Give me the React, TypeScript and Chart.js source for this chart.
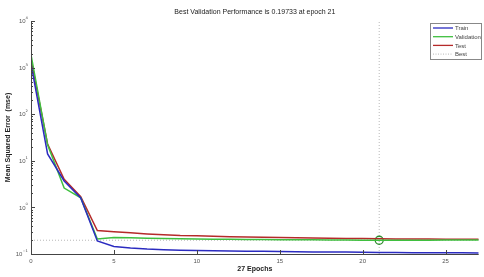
import React, { useEffect, useRef } from 'react';
import { Chart, registerables } from 'chart.js';
Chart.register(...registerables);

const epochs = [0, 1, 2, 3, 4, 5, 6, 7, 8, 9, 10, 11, 12, 13, 14, 15, 16, 17, 18, 19, 20, 21, 22, 23, 24, 25, 26, 27];
const trainMse = [1200, 14, 3.7, 1.6, 0.19, 0.145, 0.135, 0.128, 0.124, 0.121, 0.119, 0.117, 0.116, 0.115, 0.114, 0.113, 0.112, 0.111, 0.111, 0.110, 0.109, 0.108, 0.108, 0.107, 0.107, 0.106, 0.106, 0.105];
const validationMse = [1900, 22, 2.6, 1.6, 0.21, 0.225, 0.222, 0.219, 0.216, 0.213, 0.21, 0.208, 0.206, 0.205, 0.204, 0.203, 0.202, 0.201, 0.2, 0.199, 0.198, 0.19733, 0.198, 0.198, 0.198, 0.199, 0.199, 0.199];
const testMse = [1500, 23, 4.0, 1.7, 0.32, 0.3, 0.285, 0.27, 0.26, 0.25, 0.245, 0.24, 0.235, 0.232, 0.228, 0.225, 0.222, 0.22, 0.218, 0.216, 0.214, 0.212, 0.211, 0.21, 0.209, 0.208, 0.207, 0.207];
const bestEpoch = 21;
const bestValue = 0.19733;
const xTicks = [0, 5, 10, 15, 20, 25];
const yDecades = [-1, 0, 1, 2, 3, 4];
const legendLabels = ['Train', 'Validation', 'Test', 'Best'];
const titleText = 'Best Validation Performance is 0.19733 at epoch 21';
const xTitle = '27 Epochs';
const yTitle = 'Mean Squared Error  (mse)';

const BLUE = '#2b2bc0';
const GREEN = '#3fbf3f';
const RED = '#b52a2a';
const GREY = '#b8b8b8';

const supers: Record<string, string> = { '-': '\u207b', '0': '\u2070', '1': '\u00b9', '2': '\u00b2', '3': '\u00b3', '4': '\u2074' };

const decorPlugin = {
  id: 'decor',
  afterDraw(chart: any) {
    const { ctx, chartArea: a, scales } = chart;
    const x = scales.x;
    const y = scales.y;
    ctx.save();
    ctx.strokeStyle = '#444';
    ctx.lineWidth = 1;
    ctx.beginPath();
    ctx.moveTo(a.left + 0.5, a.top);
    ctx.lineTo(a.left + 0.5, a.bottom + 0.5);
    ctx.lineTo(a.right, a.bottom + 0.5);
    ctx.stroke();
    ctx.beginPath();
    xTicks.forEach((t) => {
      const px = Math.round(x.getPixelForValue(t)) + 0.5;
      ctx.moveTo(px, a.bottom);
      ctx.lineTo(px, a.bottom - 4);
    });
    yDecades.forEach((d) => {
      const base = Math.pow(10, d);
      const py = Math.round(y.getPixelForValue(base)) + 0.5;
      ctx.moveTo(a.left, py);
      ctx.lineTo(a.left + 4, py);
      if (d < 4) {
        for (let m = 2; m <= 9; m++) {
          const pm = Math.round(y.getPixelForValue(base * m)) + 0.5;
          ctx.moveTo(a.left, pm);
          ctx.lineTo(a.left + 2, pm);
        }
      }
    });
    ctx.stroke();
    ctx.fillStyle = '#555';
    ctx.textBaseline = 'middle';
    yDecades.forEach((d) => {
      const py = y.getPixelForValue(Math.pow(10, d));
      const exp = String(d).split('').map((c) => supers[c] || c).join('');
      ctx.font = '6px "DejaVu Sans", Arial, sans-serif';
      ctx.textAlign = 'left';
      const ew = ctx.measureText(exp).width;
      const right = a.left - 3;
      ctx.fillText(exp, right - ew, py - 1.5);
      ctx.font = '6px "Liberation Sans", Arial, sans-serif';
      ctx.textAlign = 'right';
      ctx.fillText('10', right - ew, py + 0.5);
    });
    ctx.fillStyle = '#222';
    ctx.font = '7px "Liberation Sans", Arial, sans-serif';
    ctx.textAlign = 'center';
    ctx.fillText(titleText, (a.left + a.right) / 2, 12);
    const lx = 430, ly = 23, lw = 51, lh = 36;
    ctx.fillStyle = '#fff';
    ctx.fillRect(lx, ly, lw, lh);
    ctx.strokeStyle = '#888';
    ctx.strokeRect(lx + 0.5, ly + 0.5, lw, lh);
    const colors = [BLUE, GREEN, RED, GREY];
    ctx.font = '6px "Liberation Sans", Arial, sans-serif';
    ctx.textAlign = 'left';
    legendLabels.forEach((lab, i) => {
      const yy = ly + 5 + i * 8.7;
      ctx.strokeStyle = colors[i];
      ctx.lineWidth = i === 3 ? 1 : 1.3;
      ctx.setLineDash(i === 3 ? [1, 1.5] : []);
      ctx.beginPath();
      ctx.moveTo(lx + 3, yy);
      ctx.lineTo(lx + 23, yy);
      ctx.stroke();
      ctx.setLineDash([]);
      ctx.fillStyle = '#444';
      ctx.fillText(lab, lx + 25, yy + 0.5);
    });
    ctx.restore();
  },
};

export default function App() {
  const ref = useRef<HTMLCanvasElement | null>(null);
  useEffect(() => {
    if (!ref.current) return;
    const mk = (arr: number[]) => epochs.map((e, i) => ({ x: e, y: arr[i] }));
    const chart = new Chart(ref.current, {
      type: 'line',
      data: {
        datasets: [
          { label: 'Train', data: mk(trainMse), borderColor: BLUE, borderWidth: 1.5, pointRadius: 0, tension: 0 },
          { label: 'Validation', data: mk(validationMse), borderColor: GREEN, borderWidth: 1.5, pointRadius: 0, tension: 0 },
          { label: 'Test', data: mk(testMse), borderColor: RED, borderWidth: 1.5, pointRadius: 0, tension: 0 },
          { label: 'BestMarker', data: [{ x: bestEpoch, y: bestValue }], showLine: false, pointRadius: 4, pointBorderWidth: 1.3, pointBorderColor: '#2e8b2e', pointBackgroundColor: 'rgba(0,0,0,0)', borderColor: '#2e8b2e' },
          { label: 'BestH', data: [{ x: 0, y: bestValue }, { x: 27, y: bestValue }], borderColor: GREY, borderWidth: 1, borderDash: [1, 2], pointRadius: 0 },
          { label: 'BestV', data: [{ x: bestEpoch, y: 0.1 }, { x: bestEpoch, y: 10000 }], borderColor: GREY, borderWidth: 1, borderDash: [1, 2], pointRadius: 0 },
        ],
      },
      options: {
        responsive: false,
        animation: false,
        layout: { padding: { top: 21, left: 0, right: 0, bottom: 0 } },
        plugins: { legend: { display: false }, tooltip: { enabled: false }, title: { display: false } },
        scales: {
          x: {
            type: 'linear',
            min: 0,
            max: 27,
            grid: { display: false, drawTicks: false },
            border: { display: false },
            ticks: { stepSize: 5, includeBounds: false, padding: 4, color: '#555', font: { size: 6, family: '"Liberation Sans", Arial, sans-serif' }, maxRotation: 0 },
            title: { display: true, text: xTitle, color: '#222', font: { size: 7, weight: 'bold', family: '"Liberation Sans", Arial, sans-serif' }, padding: { top: 2, bottom: 4 } },
            afterFit: (s: any) => { s.height = 23; },
          },
          y: {
            type: 'logarithmic',
            min: 0.1,
            max: 10000,
            grid: { display: false, drawTicks: false },
            border: { display: false },
            ticks: { display: false },
            title: { display: true, text: yTitle, color: '#222', font: { size: 7, weight: 'bold', family: '"Liberation Sans", Arial, sans-serif' }, padding: { top: 4, bottom: 2 } },
            afterFit: (s: any) => { s.width = 31; },
          },
        },
      },
      plugins: [decorPlugin],
    } as any);
    return () => chart.destroy();
  }, []);
  return (
    <div style={{ position: 'absolute', left: 0, top: 0, width: 484, height: 277, background: '#fff' }}>
      <canvas ref={ref} width={484} height={277} style={{ display: 'block' }} />
    </div>
  );
}
